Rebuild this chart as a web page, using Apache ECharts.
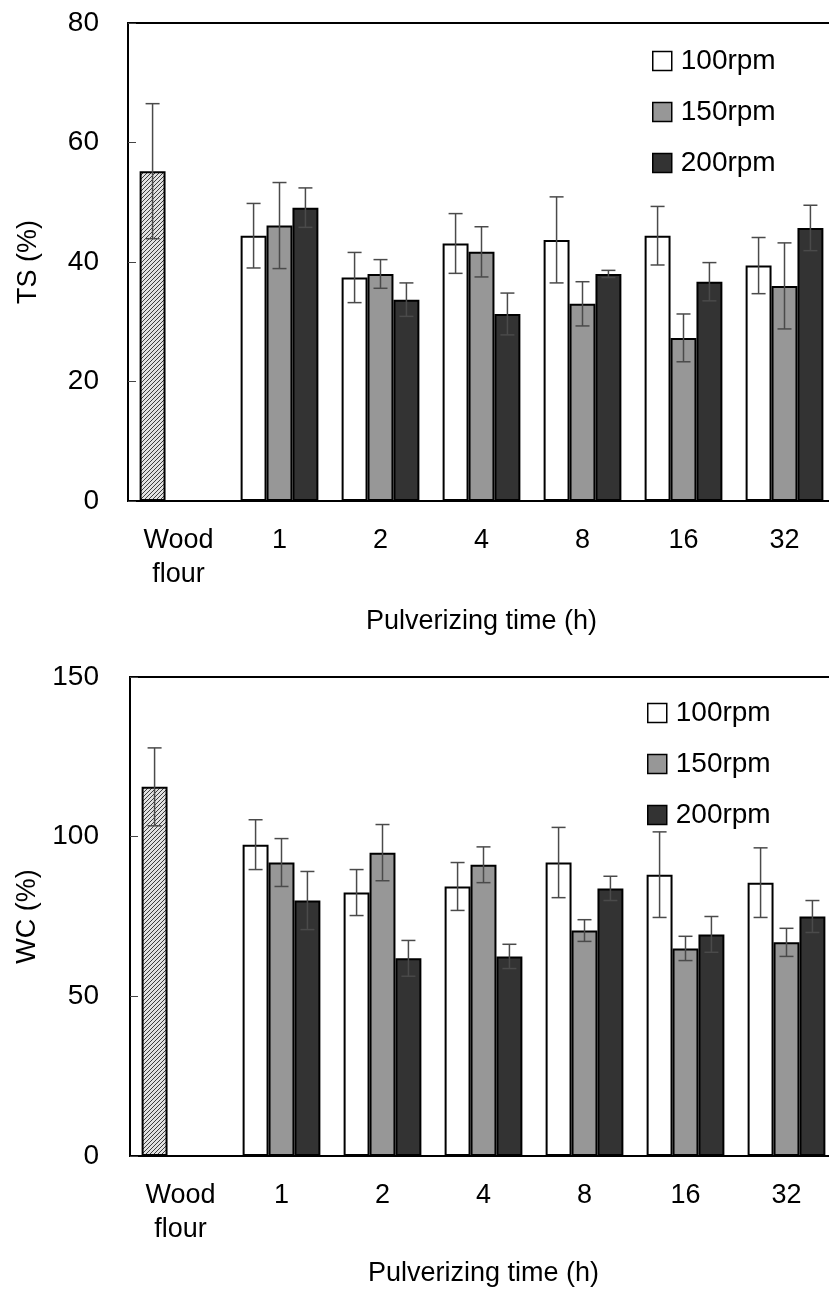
<!DOCTYPE html>
<html>
<head>
<meta charset="utf-8">
<script src="https://cdn.jsdelivr.net/npm/echarts@6/dist/echarts.min.js"></script>
<style>
  html, body { margin: 0; padding: 0; background: #fff; }
  #chart { width: 829px; height: 1291px; }
</style>
</head>
<body>
<div id="chart"></div>
<script>
// categories (pulverizing time)
const categories = ['Wood\nflour', '1', '2', '4', '8', '16', '32']
const rpmNames = ['100rpm', '150rpm', '200rpm']

// TS (%) - thickness swelling
const tsWood = 55.2
const tsWoodErr = 11.3
const ts100 = [44.4, 37.4, 43.1, 43.7, 44.4, 39.4]
const ts150 = [46.1, 38.0, 41.7, 33.0, 27.3, 36.0]
const ts200 = [49.1, 33.7, 31.3, 38.0, 36.7, 45.7]
const tsErr100 = [5.4, 4.2, 5.0, 7.2, 4.9, 4.7]
const tsErr150 = [7.2, 2.4, 4.2, 3.7, 4.0, 7.2]
const tsErr200 = [3.3, 2.8, 3.5, 0.6, 3.2, 3.8]

// WC (%) - water content
const wcWood = 115.6
const wcWoodErr = 12.2
const wc100 = [97.5, 82.5, 84.4, 91.9, 88.1, 85.6]
const wc150 = [91.9, 95.0, 91.2, 70.6, 65.0, 66.9]
const wc200 = [80.0, 61.9, 62.5, 83.8, 69.4, 75.0]
const wcErr100 = [7.8, 7.2, 7.5, 11.0, 13.4, 10.9]
const wcErr150 = [7.5, 8.8, 5.6, 3.4, 3.8, 4.4]
const wcErr200 = [9.1, 5.6, 3.8, 3.8, 5.6, 5.0]

const barColors = ['#ffffff', '#979797', '#333333']
const font = 'Liberation Sans, Arial, sans-serif'
const gap = 0.23

// hatch for the wood flour bar
function hatch () {
  const c = document.createElement('canvas')
  c.width = 4
  c.height = 4
  const ctx = c.getContext('2d')
  ctx.fillStyle = '#e0e0e0'
  ctx.fillRect(0, 0, 4, 4)
  ctx.fillStyle = '#3c3c3c'
  for (let i = 0; i < 4; i++) {
    ctx.fillRect(i, 3 - i, 1, 1)
  }
  return { image: c, repeat: 'repeat' }
}
const hatchFill = hatch()

function errData (wood, woodErr, vals, errs) {
  // [category, seriesIndex, high, low]
  const out = [[0, 0, wood + woodErr, wood - woodErr]]
  vals.forEach((v, k) => {
    v.forEach((x, i) => {
      out.push([i + 1, k, x + errs[k][i], x - errs[k][i]])
    })
  })
  return out
}

function renderErr (params, api) {
  const cat = api.value(0)
  const k = api.value(1)
  const bw = api.size([1, 0])[0]
  const barW = bw * (1 - gap) / 3
  const hi = api.coord([cat, api.value(2)])
  const lo = api.coord([cat, api.value(3)])
  const x = hi[0] + (k - 1) * barW
  const cap = 7
  const style = { stroke: '#4a4a4a', lineWidth: 1.5 }
  return {
    type: 'group',
    children: [
      { type: 'line', shape: { x1: x, y1: hi[1], x2: x, y2: lo[1] }, style: style },
      { type: 'line', shape: { x1: x - cap, y1: hi[1], x2: x + cap, y2: hi[1] }, style: style },
      { type: 'line', shape: { x1: x - cap, y1: lo[1], x2: x + cap, y2: lo[1] }, style: style }
    ]
  }
}

function barSeries (idx, wood, a, b, c) {
  const lists = [a, b, c]
  return rpmNames.map((name, k) => ({
    name: name,
    type: 'bar',
    xAxisIndex: idx,
    yAxisIndex: idx,
    barGap: '0%',
    barCategoryGap: (gap * 100) + '%',
    itemStyle: { color: barColors[k], borderColor: '#000', borderWidth: 2 },
    data: k === 0
      ? [{ value: wood, itemStyle: { color: hatchFill } }].concat(lists[k])
      : ['-'].concat(lists[k])
  }))
}

function legendAt (left, top) {
  return {
    data: rpmNames,
    orient: 'vertical',
    left: left,
    top: top,
    padding: 0,
    icon: 'rect',
    itemWidth: 19,
    itemHeight: 19,
    itemGap: 23,
    itemStyle: { borderColor: '#000', borderWidth: 1.5 },
    textStyle: { fontFamily: font, fontSize: 28, lineHeight: 28, color: '#000', padding: [0, 0, 0, 4] }
  }
}

const chart = echarts.init(document.getElementById('chart'))

const grids = [
  { left: 128, top: 23, width: 707, height: 478 },
  { left: 130, top: 677, width: 707, height: 479 }
]

const option = {
  animation: false,
  grid: grids.map(g => Object.assign({ show: true, borderColor: '#000', borderWidth: 2, containLabel: false, outerBoundsMode: 'none' }, g)),
  legend: [legendAt(652, 47), legendAt(647, 699)],
  xAxis: [0, 1].map(i => ({
    type: 'category',
    gridIndex: i,
    data: categories,
    name: 'Pulverizing time (h)',
    nameLocation: 'middle',
    nameGap: i === 0 ? 107 : 104,
    nameTextStyle: { fontFamily: font, fontSize: 27, color: '#000' },
    axisLine: { lineStyle: { color: '#000', width: 2 } },
    axisTick: { show: false },
    axisLabel: { fontFamily: font, fontSize: 27, lineHeight: 34, color: '#000', margin: 23, interval: 0 }
  })),
  yAxis: [
    {
      type: 'value',
      gridIndex: 0,
      min: 0,
      max: 80,
      interval: 20,
      name: 'TS (%)',
      nameLocation: 'middle',
      nameGap: 86,
      nameTextStyle: { fontFamily: font, fontSize: 27, color: '#000' },
      splitLine: { show: false },
      axisLine: { show: true, lineStyle: { color: '#000', width: 2 } },
      axisTick: { show: true, inside: true, length: 8, lineStyle: { color: '#444', width: 1 } },
      axisLabel: { fontFamily: font, fontSize: 28, color: '#000', margin: 29 }
    },
    {
      type: 'value',
      gridIndex: 1,
      min: 0,
      max: 150,
      interval: 50,
      name: 'WC (%)',
      nameLocation: 'middle',
      nameGap: 86,
      nameTextStyle: { fontFamily: font, fontSize: 27, color: '#000' },
      splitLine: { show: false },
      axisLine: { show: true, lineStyle: { color: '#000', width: 2 } },
      axisTick: { show: true, inside: true, length: 8, lineStyle: { color: '#444', width: 1 } },
      axisLabel: { fontFamily: font, fontSize: 28, color: '#000', margin: 31 }
    }
  ],
  series: [
    ...barSeries(0, tsWood, ts100, ts150, ts200),
    ...barSeries(1, wcWood, wc100, wc150, wc200),
    {
      type: 'custom',
      xAxisIndex: 0,
      yAxisIndex: 0,
      z: 5,
      renderItem: renderErr,
      encode: { x: 0, y: [2, 3] },
      data: errData(tsWood, tsWoodErr, [ts100, ts150, ts200], [tsErr100, tsErr150, tsErr200])
    },
    {
      type: 'custom',
      xAxisIndex: 1,
      yAxisIndex: 1,
      z: 5,
      renderItem: renderErr,
      encode: { x: 0, y: [2, 3] },
      data: errData(wcWood, wcWoodErr, [wc100, wc150, wc200], [wcErr100, wcErr150, wcErr200])
    }
  ]
}

chart.setOption(option)
</script>
</body>
</html>
